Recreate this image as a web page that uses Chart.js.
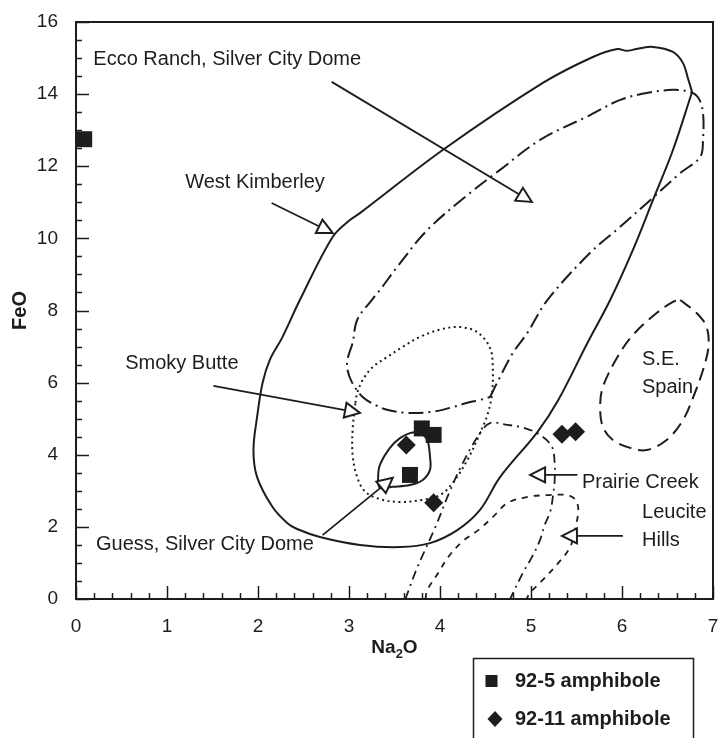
<!DOCTYPE html>
<html>
<head>
<meta charset="utf-8">
<title>FeO vs Na2O amphibole</title>
<script src="https://cdn.jsdelivr.net/npm/chart.js@4/dist/chart.umd.min.js"></script>
<style>
  html, body { margin: 0; padding: 0; background: #fff; overflow: hidden; }
  canvas { display: block; }
</style>
</head>
<body>
<canvas id="feoChart" width="718" height="738"></canvas>
<script>
// Axis ticks
const xTicks = [0, 1, 2, 3, 4, 5, 6, 7];
const yTicks = [0, 2, 4, 6, 8, 10, 12, 14, 16];

// Amphibole analyses (Na2O, FeO wt%)
const amph925Na2O = [0.09, 3.80, 3.93, 3.67];
const amph925FeO = [12.75, 4.73, 4.55, 3.44];
const amph9211Na2O = [3.63, 3.93, 5.34, 5.49];
const amph9211FeO = [4.27, 2.67, 4.57, 4.64];

// Field outlines as [Na2O, FeO] pairs
const westKimberley = [
  [6.77, 14.06], [6.56, 12.45], [6.34, 11.06], [6.12, 9.68], [5.87, 8.29], [5.62, 7.10],
  [5.30, 5.52], [5.07, 4.63], [4.66, 3.38], [4.44, 2.47], [4.19, 1.91], [3.89, 1.55],
  [3.56, 1.44], [3.12, 1.50], [2.68, 1.72], [2.43, 1.94], [2.32, 2.11], [2.16, 2.55],
  [1.99, 3.38], [1.95, 4.13], [1.99, 5.05], [2.05, 5.99], [2.13, 6.63], [2.27, 7.27],
  [2.46, 8.29], [2.82, 10.04], [3.01, 10.51], [3.12, 10.70], [4.03, 12.45], [5.13, 14.31],
  [5.68, 15.03], [5.95, 15.25], [6.05, 15.20], [6.16, 15.25], [6.34, 15.31], [6.56, 15.17],
  [6.67, 14.86], [6.73, 14.39], [6.77, 14.06]
];
const eccoRanch = [
  [4.55, 5.60], [4.66, 6.16], [4.80, 6.82], [4.96, 7.38], [5.18, 8.29], [5.65, 9.60],
  [5.98, 10.32], [6.31, 11.06], [6.64, 11.81], [6.86, 12.26], [6.89, 12.73], [6.89, 13.48],
  [6.84, 13.89], [6.75, 14.06], [6.56, 14.12], [6.27, 14.03], [5.98, 13.84], [5.65, 13.42],
  [5.10, 12.73], [4.66, 11.90], [4.33, 11.26], [3.86, 10.23], [3.53, 9.21], [3.34, 8.57],
  [3.25, 8.29], [3.09, 7.74], [3.04, 7.10], [2.99, 6.71], [2.98, 6.41], [3.03, 6.02],
  [3.15, 5.60], [3.29, 5.38], [3.43, 5.24], [3.65, 5.16], [3.91, 5.19], [4.11, 5.30],
  [4.30, 5.44], [4.44, 5.52], [4.55, 5.60]
];
const smokyButte = [
  [3.07, 5.44], [3.09, 5.71], [3.15, 6.07], [3.26, 6.43], [3.42, 6.71], [3.59, 6.99],
  [3.78, 7.27], [4.03, 7.49], [4.22, 7.54], [4.41, 7.40], [4.55, 6.96], [4.58, 6.43],
  [4.57, 5.66], [4.52, 5.10], [4.44, 4.60], [4.30, 3.85], [4.14, 3.22], [4.00, 2.88],
  [3.81, 2.75], [3.56, 2.69], [3.34, 2.77], [3.18, 2.97], [3.09, 3.38], [3.04, 3.99],
  [3.04, 4.69], [3.07, 5.44]
];
const guess = [
  [3.78, 4.63], [3.86, 4.41], [3.89, 3.94], [3.89, 3.58], [3.81, 3.30], [3.67, 3.16],
  [3.48, 3.11], [3.34, 3.08], [3.32, 3.36], [3.34, 3.72], [3.45, 4.19], [3.56, 4.46],
  [3.67, 4.60], [3.78, 4.63]
];
const prairieCreek = [
  [3.62, 0], [3.73, 0.75], [3.80, 1.16], [3.95, 2.00], [4.09, 2.88], [4.25, 3.77],
  [4.44, 4.60], [4.55, 4.88], [4.74, 4.83], [4.93, 4.74], [5.10, 4.55], [5.23, 4.22],
  [5.26, 3.77], [5.26, 3.30], [5.24, 2.83], [5.21, 2.41], [5.15, 2.05], [5.10, 1.64],
  [5.01, 1.16], [4.91, 0.72], [4.77, 0]
];
const leuciteHills = [
  [3.84, 0], [3.86, 0.25], [3.98, 0.72], [4.09, 1.16], [4.24, 1.58], [4.42, 1.91],
  [4.58, 2.27], [4.74, 2.66], [4.96, 2.83], [5.18, 2.88], [5.40, 2.88], [5.49, 2.75],
  [5.52, 2.47], [5.49, 2.00], [5.43, 1.44], [5.30, 1.00], [5.13, 0.53], [4.99, 0.17],
  [4.95, 0]
];
const seSpain = [
  [6.64, 8.29], [6.82, 7.93], [6.93, 7.54], [6.95, 6.99], [6.89, 6.35], [6.80, 5.71],
  [6.67, 4.96], [6.49, 4.41], [6.27, 4.13], [6.09, 4.19], [5.90, 4.41], [5.79, 4.77],
  [5.76, 5.32], [5.79, 5.88], [5.95, 6.71], [6.12, 7.32], [6.38, 7.93], [6.56, 8.24],
  [6.64, 8.29]
];

// Field names, where they sit, and the arrows pointing into each field
const noteTexts = [
  ['Ecco Ranch, Silver City Dome'], ['West Kimberley'], ['Smoky Butte'],
  ['Guess, Silver City Dome'], ['Prairie Creek'], ['Leucite', 'Hills'], ['S.E.', 'Spain']
];
const noteAnchors = [[0.19, 14.95], [1.20, 11.56], [0.54, 6.54], [0.22, 1.50], [5.56, 3.24], [6.22, 2.41], [6.22, 6.63]];
const arrowTails = [[2.81, 14.34], [2.15, 10.98], [1.51, 5.91], [2.71, 1.77], [5.51, 3.44], [6.01, 1.75]];
const arrowTips = [[5.01, 11.01], [2.82, 10.15], [3.12, 5.16], [3.48, 3.36], [4.99, 3.44], [5.34, 1.75]];

const ink = '#1d1d1d';
const labelFont = '20px "Liberation Sans", Arial, sans-serif';

function asPoints(pairs) {
  return pairs.map(([x, y]) => ({ x, y }));
}

function outline(label, pairs, dash, width) {
  return {
    label,
    data: asPoints(pairs),
    showLine: true,
    borderColor: ink,
    borderWidth: width || 2,
    borderDash: dash,
    pointRadius: 0,
    pointHoverRadius: 0,
    tension: 0.35,
    fill: false
  };
}

const datasets = [
  outline('West Kimberley', westKimberley, [], 2),
  outline('Ecco Ranch', eccoRanch, [15, 5, 2, 5], 2),
  outline('Smoky Butte', smokyButte, [2, 3.5], 2),
  outline('Guess', guess, [], 2),
  outline('Prairie Creek', prairieCreek, [9, 5, 2, 5], 1.8),
  outline('Leucite Hills', leuciteHills, [6, 6], 1.8),
  outline('S.E. Spain', seSpain, [13, 7], 2)
];

arrowTails.forEach((tail, i) => {
  datasets.push({
    label: 'arrow ' + i,
    data: asPoints([tail, arrowTips[i]]),
    showLine: true,
    borderColor: ink,
    borderWidth: 1.8,
    pointRadius: 0,
    pointHoverRadius: 0,
    tension: 0,
    arrowHead: true
  });
});

datasets.push({
  label: '92-5 amphibole',
  data: amph925Na2O.map((x, i) => ({ x, y: amph925FeO[i] })),
  pointStyle: 'rect',
  pointRadius: 11.3,
  backgroundColor: ink,
  borderColor: ink,
  borderWidth: 0,
  inLegend: true
});
datasets.push({
  label: '92-11 amphibole',
  data: amph9211Na2O.map((x, i) => ({ x, y: amph9211FeO[i] })),
  pointStyle: 'rectRot',
  pointRadius: 9.5,
  backgroundColor: ink,
  borderColor: ink,
  borderWidth: 0,
  inLegend: true
});

// Frame, inward tick marks and the Na2O title with its subscript
const plotFrame = {
  id: 'plotFrame',
  afterDatasetsDraw(chart) {
    const { ctx, chartArea: a, scales: { x, y } } = chart;
    ctx.save();
    ctx.strokeStyle = ink;
    ctx.lineWidth = 2;
    ctx.strokeRect(a.left, a.top, a.right - a.left, a.bottom - a.top);

    ctx.lineWidth = 1.5;
    ctx.beginPath();
    for (let v = 0; v <= 7.001; v += 0.2) {
      const px = Math.round(x.getPixelForValue(v)) + 0.5;
      const len = xTicks.some(t => Math.abs(t - v) < 1e-6) ? 13 : 6;
      ctx.moveTo(px, a.bottom);
      ctx.lineTo(px, a.bottom - len);
    }
    for (let v = 0; v <= 16.001; v += 0.5) {
      const py = Math.round(y.getPixelForValue(v)) + 0.5;
      const len = yTicks.some(t => Math.abs(t - v) < 1e-6) ? 13 : 6;
      ctx.moveTo(a.left, py);
      ctx.lineTo(a.left + len, py);
    }
    ctx.stroke();

    // x title: Na2O
    const big = 'bold 19px "Liberation Sans", Arial, sans-serif';
    const small = 'bold 13px "Liberation Sans", Arial, sans-serif';
    ctx.fillStyle = ink;
    ctx.textBaseline = 'middle';
    ctx.textAlign = 'left';
    ctx.font = big;
    const wNa = ctx.measureText('Na').width;
    const wO = ctx.measureText('O').width;
    ctx.font = small;
    const w2 = ctx.measureText('2').width;
    let tx = (a.left + a.right) / 2 - (wNa + w2 + wO) / 2;
    const ty = a.bottom + 49;
    ctx.font = big;
    ctx.fillText('Na', tx, ty);
    tx += wNa;
    ctx.font = small;
    ctx.fillText('2', tx, ty + 6);
    tx += w2;
    ctx.font = big;
    ctx.fillText('O', tx, ty);
    ctx.restore();
  }
};

// Open triangle heads at the end of each arrow line
const arrowHeads = {
  id: 'arrowHeads',
  afterDatasetsDraw(chart) {
    const ctx = chart.ctx;
    chart.data.datasets.forEach((ds, i) => {
      if (!ds.arrowHead) return;
      const pts = chart.getDatasetMeta(i).data;
      const tail = pts[0];
      const tip = pts[pts.length - 1];
      const ang = Math.atan2(tip.y - tail.y, tip.x - tail.x);
      ctx.save();
      ctx.translate(tip.x, tip.y);
      ctx.rotate(ang);
      ctx.beginPath();
      ctx.moveTo(0, 0);
      ctx.lineTo(-15, -7.5);
      ctx.lineTo(-15, 7.5);
      ctx.closePath();
      ctx.fillStyle = '#fff';
      ctx.fill();
      ctx.lineWidth = 2;
      ctx.strokeStyle = ink;
      ctx.stroke();
      ctx.restore();
    });
  }
};

// Field names placed in data coordinates
const fieldNotes = {
  id: 'fieldNotes',
  afterDatasetsDraw(chart) {
    const { ctx, scales: { x, y } } = chart;
    ctx.save();
    ctx.fillStyle = ink;
    ctx.font = labelFont;
    ctx.textAlign = 'left';
    ctx.textBaseline = 'middle';
    noteTexts.forEach((lines, i) => {
      const px = x.getPixelForValue(noteAnchors[i][0]);
      const py = y.getPixelForValue(noteAnchors[i][1]);
      lines.forEach((line, j) => ctx.fillText(line, px, py + j * 28));
    });
    ctx.restore();
  }
};

// Boxed key for the two amphibole samples
const markerLegend = {
  id: 'markerLegend',
  afterDraw(chart) {
    const { ctx, chartArea: a } = chart;
    const left = a.right - 240;
    const top = a.bottom + 59;
    ctx.save();
    ctx.strokeStyle = ink;
    ctx.lineWidth = 1.5;
    ctx.strokeRect(left + 0.5, top + 0.5, 220, 100);
    ctx.fillStyle = ink;
    ctx.font = 'bold 20px "Liberation Sans", Arial, sans-serif';
    ctx.textAlign = 'left';
    ctx.textBaseline = 'middle';
    chart.data.datasets.filter(ds => ds.inLegend).forEach((ds, i) => {
      const cy = top + 23 + i * 38;
      if (ds.pointStyle === 'rect') {
        ctx.fillRect(left + 12.5, cy - 6, 12, 12);
      } else {
        const cx = left + 22;
        ctx.beginPath();
        ctx.moveTo(cx, cy - 8);
        ctx.lineTo(cx + 7.5, cy);
        ctx.lineTo(cx, cy + 8);
        ctx.lineTo(cx - 7.5, cy);
        ctx.closePath();
        ctx.fill();
      }
      ctx.fillText(ds.label, left + 42, cy);
    });
    ctx.restore();
  }
};

new Chart(document.getElementById('feoChart'), {
  type: 'scatter',
  data: { datasets },
  options: {
    responsive: false,
    animation: false,
    devicePixelRatio: 1,
    layout: { autoPadding: false, padding: { left: 0, top: 22, right: 5, bottom: 0 } },
    plugins: {
      legend: { display: false },
      tooltip: { enabled: false }
    },
    scales: {
      x: {
        type: 'linear',
        min: 0,
        max: 7,
        afterFit(scale) {
          scale.height = 139;
          scale.paddingLeft = 0;
          scale.paddingRight = 0;
        },
        afterBuildTicks(scale) { scale.ticks = xTicks.map(v => ({ value: v })); },
        grid: { display: false, drawTicks: false },
        border: { display: false },
        ticks: {
          color: ink,
          padding: 16,
          font: { family: '"Liberation Sans", Arial, sans-serif', size: 19 }
        }
      },
      y: {
        type: 'linear',
        min: 0,
        max: 16,
        afterFit(scale) {
          scale.width = 76;
          scale.paddingTop = 0;
          scale.paddingBottom = 0;
        },
        afterBuildTicks(scale) { scale.ticks = yTicks.map(v => ({ value: v })); },
        grid: { display: false, drawTicks: false },
        border: { display: false },
        title: {
          display: true,
          text: 'FeO',
          color: ink,
          padding: { top: 8, bottom: 0 },
          font: { family: '"Liberation Sans", Arial, sans-serif', size: 20, weight: 'bold' }
        },
        ticks: {
          color: ink,
          padding: 18,
          font: { family: '"Liberation Sans", Arial, sans-serif', size: 19 }
        }
      }
    }
  },
  plugins: [plotFrame, arrowHeads, fieldNotes, markerLegend]
});
</script>
</body>
</html>
